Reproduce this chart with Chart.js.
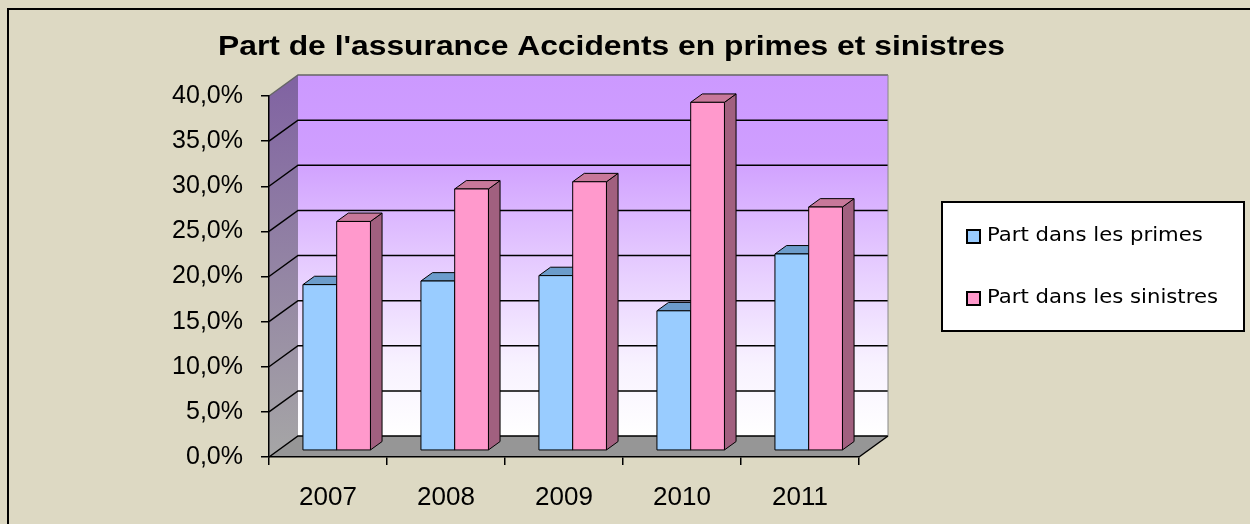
<!DOCTYPE html>
<html>
<head>
<meta charset="utf-8">
<script src="https://cdn.jsdelivr.net/npm/chart.js@4.4.1/dist/chart.umd.min.js"></script>
<style>
  html, body { margin: 0; padding: 0; background: #ddd9c3; }
  #wrap { width: 1250px; height: 524px; }
</style>
</head>
<body>
<div id="wrap"><canvas id="chart" width="1250" height="524"></canvas></div>
<script>
const years = ['2007', '2008', '2009', '2010', '2011'];
const primes = [18.4, 18.8, 19.4, 15.5, 21.8];
const sinistres = [25.4, 29.0, 29.8, 38.6, 27.0];
const seriesLabels = ['Part dans les primes', 'Part dans les sinistres'];
const titleText = "Part de l'assurance Accidents en primes et sinistres";

const DX = 29, DY = 21;       // wall depth offset
const F1 = 0.3, F2 = 0.7;     // bar depth slice
const faces = [
  { front: '#99ccff', top: '#6c9ccb', side: '#5d86ae' },
  { front: '#ff99cc', top: '#c8789a', side: '#a1607f' }
];
const FONT = "'Liberation Sans', Arial, sans-serif";

function poly(ctx, pts, fill, stroke, lw) {
  ctx.beginPath();
  ctx.moveTo(pts[0][0], pts[0][1]);
  for (let i = 1; i < pts.length; i++) ctx.lineTo(pts[i][0], pts[i][1]);
  ctx.closePath();
  if (fill) { ctx.fillStyle = fill; ctx.fill(); }
  if (stroke) { ctx.strokeStyle = stroke; ctx.lineWidth = lw || 1; ctx.stroke(); }
}

// text squeezed/stretched horizontally to a given width, left edge at x
function stretchText(ctx, text, x, y, w) {
  const sx = w / ctx.measureText(text).width;
  ctx.save();
  ctx.translate(x, y);
  ctx.scale(sx, 1);
  ctx.fillText(text, 0, 0);
  ctx.restore();
}

const walls = {
  id: 'walls',
  beforeDraw(chart) {
    const ctx = chart.ctx;
    const { left: L, right: R, top: T, bottom: B } = chart.chartArea;
    const ys = chart.scales.y;
    ctx.save();
    ctx.fillStyle = '#ddd9c3';
    ctx.fillRect(0, 0, chart.width, chart.height);
    ctx.strokeStyle = '#000';
    ctx.lineWidth = 2;
    ctx.strokeRect(8, 9, chart.width + 10, chart.height + 10);

    // back wall
    const g = ctx.createLinearGradient(0, T - DY, 0, B - DY);
    g.addColorStop(0, '#cc99ff');
    g.addColorStop(0.22, '#cf9eff');
    g.addColorStop(0.5, '#e4c8ff');
    g.addColorStop(0.8, '#f8f2ff');
    g.addColorStop(1, '#ffffff');
    ctx.fillStyle = g;
    ctx.fillRect(L + DX, T - DY, R - L, B - T);

    // side wall
    const gs = ctx.createLinearGradient(0, T - DY, 0, B);
    gs.addColorStop(0, '#8062a2');
    gs.addColorStop(1, '#a6a6a6');
    poly(ctx, [[L, B], [L, T], [L + DX, T - DY], [L + DX, B - DY]], gs);

    // floor
    poly(ctx, [[L, B], [R, B], [R + DX, B - DY], [L + DX, B - DY]], '#969696');

    // gridlines
    ys.ticks.forEach((t) => {
      const y = ys.getPixelForValue(t.value);
      ctx.strokeStyle = t.value === 40 ? '#666' : '#000';
      ctx.lineWidth = 1.5;
      ctx.beginPath();
      ctx.moveTo(L, y);
      ctx.lineTo(L + DX, y - DY);
      ctx.lineTo(R + DX, y - DY);
      ctx.stroke();
    });
    ctx.strokeStyle = '#888';
    ctx.lineWidth = 1;
    ctx.beginPath();
    ctx.moveTo(R + DX, T - DY);
    ctx.lineTo(R + DX, B - DY);
    ctx.stroke();
    ctx.strokeStyle = '#000';
    ctx.lineWidth = 1.5;
    ctx.beginPath();
    ctx.moveTo(R, B);
    ctx.lineTo(R + DX, B - DY);
    ctx.stroke();
    ctx.restore();
  },
  beforeDatasetsDraw(chart) {
    const ctx = chart.ctx;
    const n = chart.data.labels.length;
    ctx.save();
    ctx.lineJoin = 'round';
    const fx = F1 * DX, fy = F1 * DY;
    const dx = (F2 - F1) * DX, dy = (F2 - F1) * DY;
    for (let i = 0; i < n; i++) {
      chart.data.datasets.forEach((ds, d) => {
        const el = chart.getDatasetMeta(d).data[i];
        const c = faces[d];
        const x0 = el.x - el.width / 2 + fx, x1 = el.x + el.width / 2 + fx;
        const yt = el.y - fy, yb = el.base - fy;
        poly(ctx, [[x1, yt], [x1 + dx, yt - dy], [x1 + dx, yb - dy], [x1, yb]], c.side, '#000', 1);
        poly(ctx, [[x0, yt], [x1, yt], [x1 + dx, yt - dy], [x0 + dx, yt - dy]], c.top, '#000', 1);
        poly(ctx, [[x0, yt], [x1, yt], [x1, yb], [x0, yb]], c.front, '#000', 1);
      });
    }
    ctx.restore();
    return false;
  },
  afterDraw(chart) {
    const ctx = chart.ctx;
    ctx.save();
    ctx.fillStyle = '#000';
    ctx.font = 'bold 28px ' + FONT;
    ctx.textAlign = 'left';
    ctx.textBaseline = 'alphabetic';
    stretchText(ctx, titleText, 218, 55, 787);

    // legend box
    ctx.fillStyle = '#fff';
    ctx.fillRect(942, 202, 302, 129);
    ctx.strokeStyle = '#000';
    ctx.lineWidth = 2;
    ctx.strokeRect(942, 202, 302, 129);
    ctx.font = "19px 'DejaVu Sans', sans-serif";
    ctx.textBaseline = 'middle';
    ctx.fillStyle = '#000';
    const ref = ctx.measureText(seriesLabels[1]).width;
    chart.data.datasets.forEach((ds, d) => {
      const y = 236 + d * 62;
      ctx.fillStyle = faces[d].front;
      ctx.fillRect(967, y - 6, 13, 13);
      ctx.lineWidth = 2;
      ctx.strokeRect(967, y - 6, 13, 13);
      ctx.fillStyle = '#000';
      const w = ctx.measureText(ds.label).width * 231 / ref;
      stretchText(ctx, ds.label, 987, y, w);
    });
    ctx.restore();
  }
};

new Chart(document.getElementById('chart'), {
  type: 'bar',
  data: {
    labels: years,
    datasets: [
      { label: seriesLabels[0], data: primes, backgroundColor: faces[0].front },
      { label: seriesLabels[1], data: sinistres, backgroundColor: faces[1].front }
    ]
  },
  options: {
    responsive: false,
    animation: false,
    layout: { padding: { top: 96, right: 391, bottom: 0, left: 0 } },
    datasets: { bar: { categoryPercentage: 0.572, barPercentage: 1 } },
    plugins: { legend: { display: false }, tooltip: { enabled: false } },
    scales: {
      x: {
        afterFit: (s) => { s.height = 67; },
        grid: { offset: true, drawOnChartArea: false, tickLength: 8, color: '#000', lineWidth: 1.5 },
        border: { color: '#000', width: 1.5 },
        ticks: { color: '#000', padding: 17, font: { family: FONT, size: 26 } }
      },
      y: {
        min: 0,
        max: 40,
        afterFit: (s) => { s.width = 269; },
        grid: { drawOnChartArea: false, tickLength: 8, color: '#000', lineWidth: 1.5 },
        border: { color: '#000', width: 1.5 },
        ticks: {
          stepSize: 5,
          color: '#000',
          padding: 18,
          font: { family: FONT, size: 25 },
          callback: (v) => v.toFixed(1).replace('.', ',') + '%'
        }
      }
    }
  },
  plugins: [walls]
});
</script>
</body>
</html>
